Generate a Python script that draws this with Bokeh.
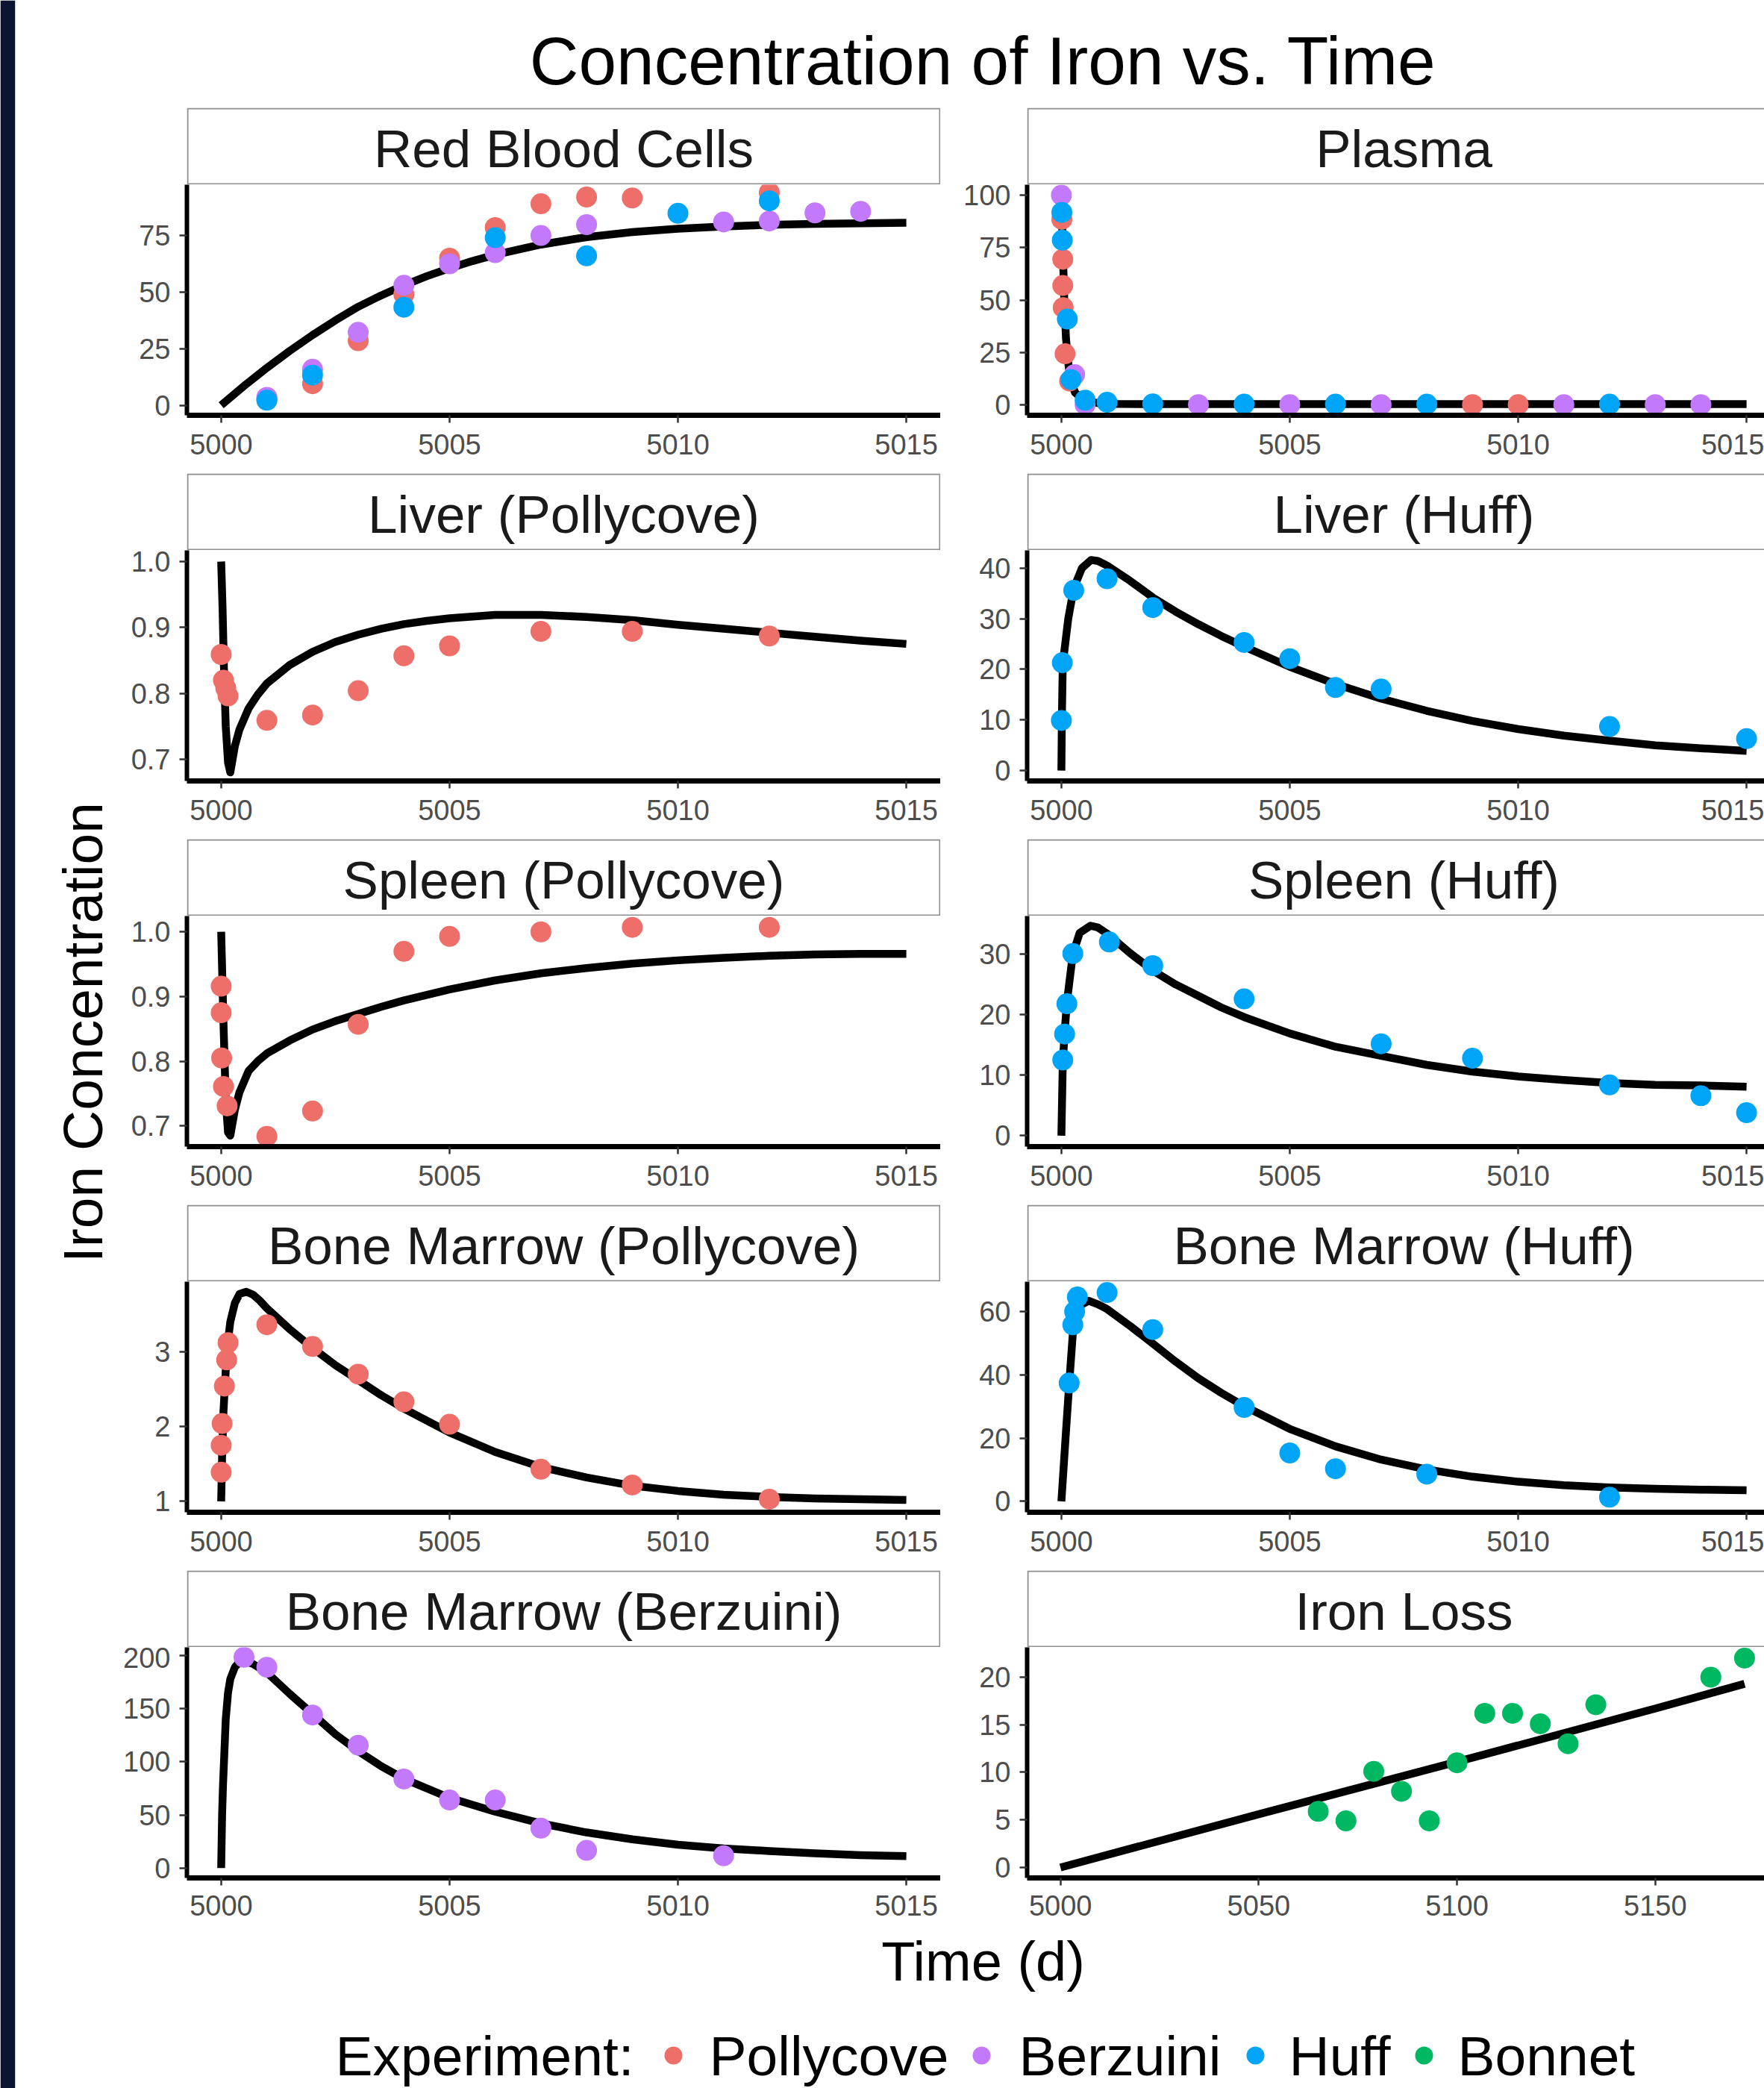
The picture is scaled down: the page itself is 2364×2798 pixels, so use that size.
from bokeh.plotting import figure
from bokeh.layouts import row, column
from bokeh.models import Range1d, FixedTicker, Label
from bokeh.embed import file_html
from bokeh.resources import INLINE

FONT = "Liberation Sans"

# ------------------------------------------------------------------ data
experiments = ["Pollycove", "Berzuini", "Huff", "Bonnet"]
experiment_colors = ["#EE6F69", "#C279FB", "#00A5F7", "#00B862"]

x_ticks_days = [5000, 5005, 5010, 5015]
x_labels_days = ["5000", "5005", "5010", "5015"]
x_ticks_loss = [5000, 5050, 5100, 5150]
x_labels_loss = ["5000", "5050", "5100", "5150"]

# Red Blood Cells
rbc_model_t = [5000, 5000.5, 5001, 5001.5, 5002, 5002.5, 5003, 5003.5, 5004, 5004.5, 5005, 5005.5, 5006,
               5007, 5008, 5009, 5010, 5011, 5012, 5013, 5014, 5015]
rbc_model_y = [0, 8.5, 16.5, 24, 31, 37.5, 43.5, 48.5, 53, 57, 60.5, 63.7, 66.5,
               71, 74.3, 76.5, 78, 79, 79.7, 80.1, 80.4, 80.6]
rbc_pollycove_t = [5001, 5002, 5003, 5004, 5005, 5006, 5007, 5008, 5009, 5012]
rbc_pollycove_y = [2.5, 9.5, 28.5, 49, 65, 78.5, 89, 92, 91.6, 94]
rbc_berzuini_t = [5001, 5002, 5003, 5004, 5005, 5006, 5007, 5008, 5011, 5012, 5013, 5014]
rbc_berzuini_y = [3.5, 15.9, 32.2, 53, 62.5, 67.4, 75, 79.8, 81, 81.4, 85, 85.7]
rbc_huff_t = [5001, 5002, 5004, 5006, 5008, 5010, 5012]
rbc_huff_y = [2.2, 13.3, 43.3, 74, 66, 84.8, 90.3]
rbc_yticks = [0, 25, 50, 75]
rbc_ylabels = ["0", "25", "50", "75"]

# Plasma
plasma_model_t = [5000, 5000.03, 5000.06, 5000.1, 5000.15, 5000.2, 5000.3, 5000.5, 5000.8, 5001.2, 5002, 5015]
plasma_model_y = [100, 75, 52, 32, 20, 12, 6, 2.2, 1.0, 0.6, 0.5, 0.5]
plasma_pollycove_t = [5000.01, 5000.03, 5000.03, 5000.04, 5000.08, 5000.18, 5009, 5010]
plasma_pollycove_y = [88.5, 69.5, 57, 46.5, 24.5, 11.5, 0.3, 0.3]
plasma_berzuini_t = [5000, 5000.29, 5000.52, 5003, 5005, 5007, 5011, 5013, 5014]
plasma_berzuini_y = [100, 14.6, 0.3, 0.3, 0.3, 0.3, 0.3, 0.3, 0.3]
plasma_huff_t = [5000.01, 5000.02, 5000.13, 5000.21, 5000.52, 5001, 5002, 5004, 5006, 5008, 5012]
plasma_huff_y = [91.8, 78.6, 41, 12.2, 2.4, 1.4, 0.6, 0.5, 0.5, 0.5, 0.5]
plasma_yticks = [0, 25, 50, 75, 100]
plasma_ylabels = ["0", "25", "50", "75", "100"]

# Liver (Pollycove)
liverp_model_t = [5000, 5000.03, 5000.06, 5000.1, 5000.15, 5000.2, 5000.3, 5000.4, 5000.6, 5000.8, 5001, 5001.5,
                  5002, 5002.5, 5003, 5003.5, 5004, 5004.5, 5005, 5006, 5007, 5008, 5009, 5010, 5011, 5012,
                  5013, 5014, 5015]
liverp_model_y = [1.0, 0.93, 0.84, 0.75, 0.695, 0.68, 0.72, 0.745, 0.777, 0.798, 0.815, 0.843,
                  0.863, 0.878, 0.889, 0.898, 0.905, 0.910, 0.914, 0.919, 0.919, 0.916, 0.911, 0.904, 0.898, 0.892,
                  0.886, 0.880, 0.875]
liverp_pollycove_t = [5000, 5000.05, 5000.1, 5000.15, 5001, 5002, 5003, 5004, 5005, 5007, 5009, 5012]
liverp_pollycove_y = [0.859, 0.820, 0.808, 0.796, 0.759, 0.767, 0.804, 0.857, 0.872, 0.894, 0.894, 0.887]
liverp_yticks = [0.7, 0.8, 0.9, 1.0]
liverp_ylabels = ["0.7", "0.8", "0.9", "1.0"]

# Liver (Huff)
liverh_model_t = [5000, 5000.01, 5000.03, 5000.15, 5000.27, 5000.45, 5000.65, 5000.8, 5001, 5001.5, 5002, 5002.5,
                  5003, 5003.5, 5004, 5005, 5006, 5007, 5008, 5009, 5010, 5011, 5012, 5013, 5014, 5015]
liverh_model_y = [0, 10, 21, 30, 36, 40, 41.6, 41.4, 40.5, 37.5, 34.2, 31.4,
                  28.9, 26.6, 24.5, 20.5, 17.1, 14.2, 11.8, 9.8, 8.2, 6.9, 5.9, 5.0, 4.4, 3.9]
liverh_huff_t = [5000, 5000.02, 5000.27, 5001, 5002, 5004, 5005, 5006, 5007, 5012, 5015]
liverh_huff_y = [9.9, 21.3, 35.6, 37.9, 32.2, 25.3, 22.1, 16.4, 16.1, 8.7, 6.3]
liverh_yticks = [0, 10, 20, 30, 40]
liverh_ylabels = ["0", "10", "20", "30", "40"]

# Spleen (Pollycove)
spleenp_model_t = [5000, 5000.05, 5000.1, 5000.15, 5000.2, 5000.3, 5000.4, 5000.6, 5000.8, 5001, 5001.5, 5002,
                   5002.5, 5003, 5003.5, 5004, 5005, 5006, 5007, 5008, 5009, 5010, 5011, 5012, 5013, 5014, 5015]
spleenp_model_y = [1.0, 0.86, 0.74, 0.69, 0.685, 0.725, 0.752, 0.785, 0.80, 0.812, 0.832, 0.849,
                   0.862, 0.873, 0.884, 0.894, 0.911, 0.925, 0.936, 0.944, 0.951, 0.956, 0.960, 0.963, 0.965,
                   0.966, 0.966]
spleenp_pollycove_t = [5000, 5000, 5000.01, 5000.05, 5000.13, 5001, 5002, 5003, 5004, 5005, 5007, 5009, 5012]
spleenp_pollycove_y = [0.916, 0.875, 0.805, 0.761, 0.731, 0.684, 0.723, 0.857, 0.970, 0.993, 1.000, 1.007, 1.007]
spleenp_yticks = [0.7, 0.8, 0.9, 1.0]
spleenp_ylabels = ["0.7", "0.8", "0.9", "1.0"]

# Spleen (Huff)
spleenh_model_t = [5000, 5000.03, 5000.07, 5000.12, 5000.25, 5000.4, 5000.64, 5000.8, 5001, 5001.5, 5002, 5002.5,
                   5003, 5003.5, 5004, 5005, 5006, 5007, 5008, 5009, 5010, 5011, 5012, 5013, 5014, 5015]
spleenh_model_y = [0, 12, 17, 22, 30, 33.5, 34.7, 34.4, 33.4, 30.2, 27.3, 25.0,
                   23.1, 21.2, 19.6, 16.9, 14.7, 13.2, 11.7, 10.6, 9.8, 9.2, 8.7, 8.4, 8.3, 8.1]
spleenh_huff_t = [5000.03, 5000.07, 5000.12, 5000.25, 5001.05, 5002, 5004, 5007, 5009, 5012, 5014, 5015]
spleenh_huff_y = [12.5, 16.8, 21.8, 30.1, 32.0, 28.1, 22.6, 15.2, 12.8, 8.4, 6.6, 3.8]
spleenh_yticks = [0, 10, 20, 30]
spleenh_ylabels = ["0", "10", "20", "30"]

# Bone Marrow (Pollycove)
bmp_model_t = [5000, 5000.02, 5000.05, 5000.1, 5000.15, 5000.2, 5000.3, 5000.4, 5000.55, 5000.7, 5000.85, 5001,
               5001.5, 5002, 5002.5, 5003, 5003.5, 5004, 5005, 5006, 5007, 5008, 5009, 5010, 5011, 5012, 5013,
               5014, 5015]
bmp_model_y = [1.0, 1.6, 2.2, 2.75, 3.15, 3.4, 3.65, 3.77, 3.8, 3.76, 3.68, 3.58,
               3.3, 3.05, 2.82, 2.62, 2.42, 2.24, 1.92, 1.66, 1.46, 1.32, 1.21, 1.14, 1.09, 1.06, 1.04,
               1.03, 1.02]
bmp_pollycove_t = [5000, 5000, 5000.02, 5000.07, 5000.12, 5000.15, 5001, 5002, 5003, 5004, 5005, 5007, 5009, 5012]
bmp_pollycove_y = [1.39, 1.75, 2.04, 2.54, 2.89, 3.12, 3.36, 3.07, 2.70, 2.33, 2.03, 1.43, 1.22, 1.03]
bmp_yticks = [1, 2, 3]
bmp_ylabels = ["1", "2", "3"]

# Bone Marrow (Huff)
bmh_model_t = [5000, 5000.05, 5000.1, 5000.17, 5000.25, 5000.35, 5000.45, 5000.6, 5000.8, 5001, 5001.5, 5002,
               5002.5, 5003, 5003.5, 5004, 5005, 5006, 5007, 5008, 5009, 5010, 5011, 5012, 5013, 5014, 5015]
bmh_model_y = [0, 11, 22, 37, 53, 59.5, 62.3, 63.4, 62.3, 60.8, 55.5, 49.9,
               44.2, 38.9, 34.3, 30.1, 22.9, 17.4, 13.2, 10.1, 7.8, 6.2, 5.1, 4.4, 4.0, 3.7, 3.5]
bmh_huff_t = [5000.17, 5000.25, 5000.29, 5000.35, 5001, 5002, 5004, 5005, 5006, 5008, 5012]
bmh_huff_y = [37.4, 55.8, 60, 64.6, 66.0, 54.3, 29.7, 15.3, 10.3, 8.6, 1.3]
bmh_yticks = [0, 20, 40, 60]
bmh_ylabels = ["0", "20", "40", "60"]

# Bone Marrow (Berzuini)
bmb_model_t = [5000, 5000.02, 5000.04, 5000.1, 5000.15, 5000.2, 5000.3, 5000.4, 5000.5, 5000.7, 5001, 5001.5,
               5002, 5002.5, 5003, 5003.5, 5004, 5005, 5006, 5007, 5008, 5009, 5010, 5011, 5012, 5013, 5014, 5015]
bmb_model_y = [0, 50, 78, 140, 165, 178, 189, 194, 195, 192, 184, 164,
               145, 126, 110, 96, 84, 66, 53, 42, 33.5, 27, 22, 18.5, 16, 13.8, 12.2, 11.3]
bmb_berzuini_t = [5000.5, 5001, 5002, 5003, 5004, 5005, 5006, 5007, 5008, 5011]
bmb_berzuini_y = [198.4, 189, 144, 115.6, 83.8, 64, 64, 37.5, 16.6, 11.6]
bmb_yticks = [0, 50, 100, 150, 200]
bmb_ylabels = ["0", "50", "100", "150", "200"]

# Iron Loss
loss_model_t = [5000, 5050, 5100, 5150, 5172.5]
loss_model_y = [0, 5.6, 11.1, 16.7, 19.3]
loss_bonnet_t = [5065, 5072, 5079, 5086, 5093, 5100, 5107, 5114, 5121, 5128, 5135, 5164, 5172.5]
loss_bonnet_y = [5.9, 4.9, 10.1, 8.0, 4.9, 11.0, 16.2, 16.2, 15.1, 13.0, 17.1, 20.0, 22.0]
loss_yticks = [0, 5, 10, 15, 20]
loss_ylabels = ["0", "5", "10", "15", "20"]

# ------------------------------------------------------------------ layout constants
color_of = dict(zip(experiments, experiment_colors))

MARGIN_W = 162                      # dark strip + y title column
LEFT_W, RIGHT_W, RIGHT_FULL_W = 1010, 988, 1010
LEFT_B, RIGHT_B = 88, 116
STRIP_H, FRAME_H, GAP_H, GAP_LAST = 103, 309, 78, 67
BASE_SHIFT = 0.31                   # alphabetic-baseline correction (fraction of font size)
TICK_FS = 38

panels = [
    dict(title="Red Blood Cells", side="left", xr=(4999.25, 5015.75), yr=(-4.45, 97.45),
         model=(rbc_model_t, rbc_model_y),
         pts=[("Pollycove", rbc_pollycove_t, rbc_pollycove_y), ("Berzuini", rbc_berzuini_t, rbc_berzuini_y),
              ("Huff", rbc_huff_t, rbc_huff_y)],
         yt=(rbc_yticks, rbc_ylabels), xt=(x_ticks_days, x_labels_days)),
    dict(title="Plasma", side="right", xr=(4999.25, 5015.39), yr=(-4.8, 105.0),
         model=(plasma_model_t, plasma_model_y),
         pts=[("Pollycove", plasma_pollycove_t, plasma_pollycove_y), ("Berzuini", plasma_berzuini_t, plasma_berzuini_y),
              ("Huff", plasma_huff_t, plasma_huff_y)],
         yt=(plasma_yticks, plasma_ylabels), xt=(x_ticks_days, x_labels_days)),
    dict(title="Liver (Pollycove)", side="left", xr=(4999.25, 5015.75), yr=(0.667, 1.017),
         model=(liverp_model_t, liverp_model_y),
         pts=[("Pollycove", liverp_pollycove_t, liverp_pollycove_y)],
         yt=(liverp_yticks, liverp_ylabels), xt=(x_ticks_days, x_labels_days)),
    dict(title="Liver (Huff)", side="right", xr=(4999.25, 5015.39), yr=(-2.05, 43.5),
         model=(liverh_model_t, liverh_model_y),
         pts=[("Huff", liverh_huff_t, liverh_huff_y)],
         yt=(liverh_yticks, liverh_ylabels), xt=(x_ticks_days, x_labels_days)),
    dict(title="Spleen (Pollycove)", side="left", xr=(4999.25, 5015.75), yr=(0.668, 1.0245),
         model=(spleenp_model_t, spleenp_model_y),
         pts=[("Pollycove", spleenp_pollycove_t, spleenp_pollycove_y)],
         yt=(spleenp_yticks, spleenp_ylabels), xt=(x_ticks_days, x_labels_days)),
    dict(title="Spleen (Huff)", side="right", xr=(4999.25, 5015.39), yr=(-1.8, 36.3),
         model=(spleenh_model_t, spleenh_model_y),
         pts=[("Huff", spleenh_huff_t, spleenh_huff_y)],
         yt=(spleenh_yticks, spleenh_ylabels), xt=(x_ticks_days, x_labels_days)),
    dict(title="Bone Marrow (Pollycove)", side="left", xr=(4999.25, 5015.75), yr=(0.855, 3.935),
         model=(bmp_model_t, bmp_model_y),
         pts=[("Pollycove", bmp_pollycove_t, bmp_pollycove_y)],
         yt=(bmp_yticks, bmp_ylabels), xt=(x_ticks_days, x_labels_days)),
    dict(title="Bone Marrow (Huff)", side="right", xr=(4999.25, 5015.39), yr=(-3.45, 69.45),
         model=(bmh_model_t, bmh_model_y),
         pts=[("Huff", bmh_huff_t, bmh_huff_y)],
         yt=(bmh_yticks, bmh_ylabels), xt=(x_ticks_days, x_labels_days)),
    dict(title="Bone Marrow (Berzuini)", side="left", xr=(4999.25, 5015.75), yr=(-9.3, 207.7),
         model=(bmb_model_t, bmb_model_y),
         pts=[("Berzuini", bmb_berzuini_t, bmb_berzuini_y)],
         yt=(bmb_yticks, bmb_ylabels), xt=(x_ticks_days, x_labels_days)),
    dict(title="Iron Loss", side="right", xr=(4991.6, 5177.5), yr=(-1.1, 23.13),
         model=(loss_model_t, loss_model_y),
         pts=[("Bonnet", loss_bonnet_t, loss_bonnet_y)],
         yt=(loss_yticks, loss_ylabels), xt=(x_ticks_loss, x_labels_loss)),
]


def base_fig(**kw):
    return figure(toolbar_location=None, output_backend="svg", min_border=0,
                  outline_line_color=None, border_fill_color="white",
                  background_fill_color="white", **kw)


def text_label(x, y, text, size, color="black", align="center", angle=0.0, **kw):
    return Label(x=x, y=y, text=text, text_align=align, text_baseline="alphabetic",
                 text_font=FONT, text_font_size=f"{size}px", text_color=color,
                 angle=angle, **kw)


def strip_figure(title, side):
    w = LEFT_W if side == "left" else RIGHT_W
    lb = LEFT_B if side == "left" else RIGHT_B
    s = base_fig(frame_width=w, frame_height=STRIP_H, min_border_left=lb,
                 x_range=Range1d(0, w), y_range=Range1d(0, STRIP_H),
                 x_axis_location=None, y_axis_location=None)
    s.grid.visible = False
    s.quad(left=1, right=RIGHT_FULL_W - 1, bottom=1, top=STRIP_H - 1,
           fill_color="white", line_color="#8E8E8E", line_width=2)
    s.add_layout(text_label(RIGHT_FULL_W / 2, 26 + BASE_SHIFT * 71, title, 71, color="#1A1A1A"))
    return s


def panel_figure(spec, gap, standoff):
    side = spec["side"]
    w = LEFT_W if side == "left" else RIGHT_W
    lb = LEFT_B if side == "left" else RIGHT_B
    y0, y1 = spec["yr"]
    p = base_fig(frame_width=w, frame_height=FRAME_H, min_border_left=lb,
                 min_border_bottom=gap,
                 x_range=Range1d(*spec["xr"]), y_range=Range1d(y0, y1))
    p.grid.visible = False
    mt, my = spec["model"]
    p.line(mt, my, line_color="black", line_width=10.5, line_join="round")
    for name, tx, ty in spec["pts"]:
        p.scatter(tx, ty, size=28, marker="circle", fill_color=color_of[name],
                  line_color=None)
    yt, yl = spec["yt"]
    xt, xl = spec["xt"]
    p.yaxis.ticker = FixedTicker(ticks=yt)
    p.yaxis.major_label_overrides = {t: l for t, l in zip(yt, yl)}
    p.xaxis.ticker = FixedTicker(ticks=xt)
    p.xaxis.major_label_overrides = {t: l for t, l in zip(xt, xl)}
    for ax in (p.xaxis[0], p.yaxis[0]):
        ax.axis_line_color = "black"
        ax.major_tick_line_color = "#333333"
        ax.major_tick_line_width = 2.5
        ax.major_tick_out = 10
        ax.major_tick_in = 0
        ax.minor_tick_line_color = None
        ax.major_label_text_font = FONT
        ax.major_label_text_font_size = f"{TICK_FS}px"
        ax.major_label_text_color = "#4D4D4D"
    p.xaxis.axis_line_width = 7
    p.yaxis.axis_line_width = 6
    p.xaxis.major_label_standoff = standoff
    p.yaxis.major_label_standoff = 12
    return p


left_cells, right_cells = [], []
for i, spec in enumerate(panels):
    last = i >= len(panels) - 2
    gap, standoff = (GAP_LAST, 13) if last else (GAP_H, 15)
    cell = [strip_figure(spec["title"], spec["side"]), panel_figure(spec, gap, standoff)]
    (left_cells if spec["side"] == "left" else right_cells).extend(cell)

TOTAL_H = 2798
INNER_W = 2364 - MARGIN_W
TITLE_H = 144
BOTTOM_H = TOTAL_H - TITLE_H - 5 * (STRIP_H + FRAME_H) - 4 * GAP_H - GAP_LAST
CENTER_X = 1317 - MARGIN_W          # centre of the panel area

# left margin: dark strip + y axis title
margin = figure(toolbar_location=None, output_backend="svg", min_border=0, min_border_left=20,
                frame_width=MARGIN_W - 20, frame_height=TOTAL_H, x_range=Range1d(0, MARGIN_W - 20),
                y_range=Range1d(0, TOTAL_H), x_axis_location=None, y_axis_location=None,
                outline_line_color=None, border_fill_color="#0B1431",
                background_fill_color="white")
margin.grid.visible = False
margin.add_layout(text_label(114 - BASE_SHIFT * 75, TOTAL_H - 1383, "Iron Concentration", 75,
                             angle=1.5707963))

# title
top = base_fig(frame_width=INNER_W, frame_height=TITLE_H, x_range=Range1d(0, INNER_W),
               y_range=Range1d(0, TITLE_H), x_axis_location=None, y_axis_location=None)
top.grid.visible = False
top.add_layout(text_label(CENTER_X, TITLE_H - 109 + BASE_SHIFT * 91, "Concentration of Iron vs. Time", 91))

# x title + legend (y measured from the bottom edge of the page)
bottom = base_fig(frame_width=INNER_W, frame_height=BOTTOM_H, x_range=Range1d(0, INNER_W),
                  y_range=Range1d(0, BOTTOM_H), x_axis_location=None, y_axis_location=None)
bottom.grid.visible = False
bottom.add_layout(text_label(CENTER_X, TOTAL_H - 2651 + BASE_SHIFT * 74, "Time (d)", 74))
legend_base = TOTAL_H - 2778 + BASE_SHIFT * 75
bottom.add_layout(text_label(449 - MARGIN_W, legend_base, "Experiment:", 75, align="left"))
legend_key_x = [x - MARGIN_W for x in (902, 1315, 1682, 1908)]
legend_text_x = [x - MARGIN_W for x in (950, 1365, 1727, 1953)]
bottom.scatter(legend_key_x, [TOTAL_H - 2754] * 4, size=24, marker="circle",
               fill_color=experiment_colors, line_color=None)
for name, lx in zip(experiments, legend_text_x):
    bottom.add_layout(text_label(lx, legend_base, name, 75, align="left"))

grid = row(column(*left_cells), column(*right_cells))
layout = row(margin, column(top, grid, bottom))

open("out.html", "w").write(file_html(layout, INLINE))
